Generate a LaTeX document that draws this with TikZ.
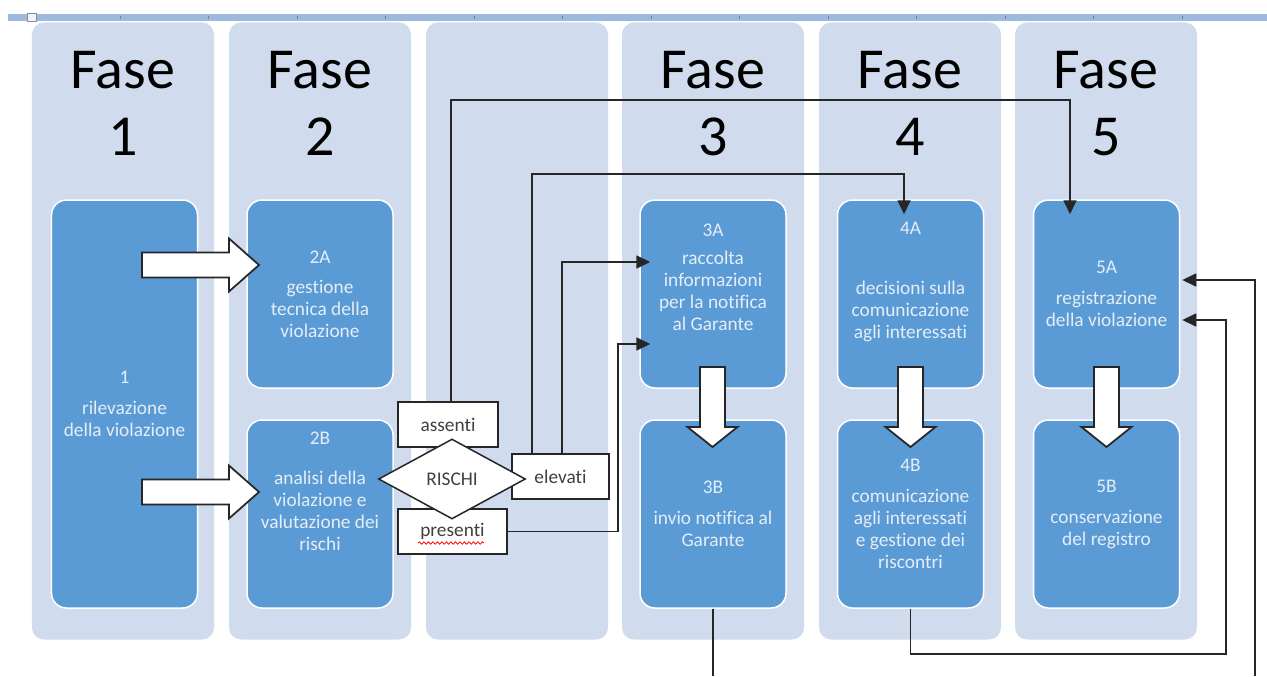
\documentclass[tikz,border=0pt]{standalone}
\usepackage{fontspec}
\setmainfont{Carlito}[Ligatures=NoCommon]
\usetikzlibrary{arrows.meta,positioning,shapes.geometric,decorations.pathmorphing}
\definecolor{colfill}{HTML}{D0DCEE}
\definecolor{boxfill}{HTML}{5B9BD5}
\definecolor{boxtext}{HTML}{E4EDF8}
\definecolor{rulerblue}{HTML}{9DB9DE}
\definecolor{labtext}{HTML}{404040}
\newcommand{\fatright}[1]{\draw[fatarrow] (#1) ++(0,-12.5) -- ++(87,0) -- ++(0,-14) -- ++(30,26.5) -- ++(-30,26.5) -- ++(0,-14) -- ++(-87,0) -- cycle;}
\newcommand{\fatdown}[1]{\draw[fatarrow] (#1) ++(-12.5,0) -- ++(0,60) -- ++(-12.5,0) -- ++(25,20) -- ++(25,-20) -- ++(-12.5,0) -- ++(0,-60) -- cycle;}

\begin{document}
\begin{tikzpicture}[x=0.2mm, y=-0.2mm,
  column/.style={fill=colfill, rounded corners=2.4mm, minimum width=36.4mm, minimum height=123.4mm, inner sep=0pt},
  phase/.style={fill=boxfill, draw=white, line width=0.3mm, rounded corners=3mm, minimum width=29.2mm, minimum height=37.6mm, inner sep=0pt, align=center, text=boxtext, font=\fontsize{11}{12.5}\selectfont},
  fase/.style={anchor=base, align=center, font=\fontsize{33}{38}\selectfont, text=black},
  tag/.style={draw=black!85, fill=white, line width=0.3mm, minimum height=9mm, inner sep=0pt, text=labtext, font=\fontsize{11}{13}\selectfont},
  decision/.style={diamond, draw=black!85, fill=white, line width=0.3mm, minimum width=29.4mm, minimum height=16mm, inner sep=0pt, text=labtext, font=\fontsize{11}{13}\selectfont},
  fatarrow/.style={draw=black!85, fill=white, line width=0.35mm},
  conn/.style={draw=black!85, line width=0.35mm, -{Triangle[length=2.8mm, width=2.6mm]}},
  line/.style={draw=black!85, line width=0.35mm},
]
\fill[white] (0,0) rectangle (1267,676);
\useasboundingbox (0,0) rectangle (1267,676);
% --- ruler on top ---
\fill[rulerblue] (8,14) rectangle (1267,21);
\draw[black!45, fill=white!85!rulerblue, line width=0.2mm] (27,13) rectangle (36,21);
\foreach \t in {0,...,12} \draw[black!50, line width=0.2mm] (120+88.5*\t,16) -- ++(0,3);
% --- columns ---
\node[column] (c1) at (123,331) {};
\node[column] (c2) at (320,331) {};
\node[column] (c3) at (517,331) {};
\node[column] (c4) at (713,331) {};
\node[column] (c5) at (910,331) {};
\node[column] (c6) at (1106,331) {};
% --- headers ---
\node[fase] (f1) at (123,155) {Fase\\1};
\node[fase] (f2) at (320,155) {Fase\\2};
\node[fase] (f3) at (713,155) {Fase\\3};
\node[fase] (f4) at (910,155) {Fase\\4};
\node[fase] (f5) at (1106,155) {Fase\\5};
% --- steps ---
\node[phase, minimum height=81.6mm] (b1) at (124.5,404) {1\\[1.8mm]rilevazione\\della violazione};
\node[phase] (b2A) at (320,294) {2A\\[1.6mm]gestione\\tecnica della\\violazione};
\node[phase] (b2B) at (320,514) {2B\\[3.6mm]analisi della\\violazione e\\valutazione dei\\rischi\\[4.6mm]\mbox{}};
\node[phase] (b3A) at (713,294) {3A\\[1.2mm]raccolta\\informazioni\\per la notifica\\al Garante\\[2.2mm]\mbox{}};
\node[phase] (b3B) at (713,514) {3B\\[1.8mm]invio notifica al\\Garante};
\node[phase] (b4A) at (910.5,294) {4A\\[7.6mm]decisioni sulla\\comunicazione\\agli interessati\\[1.2mm]\mbox{}};
\node[phase] (b4B) at (910.5,514) {4B\\[1.8mm]comunicazione\\agli interessati\\e gestione dei\\riscontri};
\node[phase] (b5A) at (1106.5,294) {5A\\[1.8mm]registrazione\\della violazione};
\node[phase] (b5B) at (1106.5,514) {5B\\[1.8mm]conservazione\\del registro};
% --- block arrows ---
\fatright{142,265}
\fatright{142,492}
\fatdown{712.5,367}
\fatdown{910.5,367}
\fatdown{1106.5,367}
% --- risk outcome ---
\node[tag, minimum width=20mm] (assenti) at (448,424.5) {assenti};
\node[tag, minimum width=19.4mm] (elevati) at (560.5,476.5) {elevati};
\node[tag, minimum width=21.8mm] (presenti) at (452.5,531.5) {presenti};
\draw[red, line width=0.15mm, decorate, decoration={snake, amplitude=0.25mm, segment length=0.9mm}] ([shift={(-34.5,11.5)}]presenti.center) -- ([shift={(31.5,11.5)}]presenti.center);
\node[decision] (rischi) at (452,479) {RISCHI};
% --- connectors ---
\coordinate (down3) at (713,676);
\coordinate (up5) at (1255,676);
\draw[conn] ([xshift=0.6mm]assenti.north) -- ++(0,-301) -| ([xshift=-7.3mm,yshift=-3mm]b5A.north);
\draw[conn] ([xshift=-5.7mm]elevati.north) -- ++(0,-279) -| ([xshift=-1.3mm,yshift=-3mm]b4A.north);
\draw[conn] ([xshift=0.3mm]elevati.north) |- ([xshift=2.2mm,yshift=6.4mm]b3A.west);
\draw[conn] (presenti.east) -- ++(110,0) |- ([xshift=2.2mm,yshift=-10mm]b3A.west);
\draw[line] (b3B.south) -- (down3);
\draw[conn] (b4B.south) -- ++(0,45) -- ++(315.5,0) |- ([xshift=0.4mm,yshift=-5.2mm]b5A.east);
\draw[conn] (up5) |- ([xshift=0.4mm,yshift=2.8mm]b5A.east);
\end{tikzpicture}
\end{document}
